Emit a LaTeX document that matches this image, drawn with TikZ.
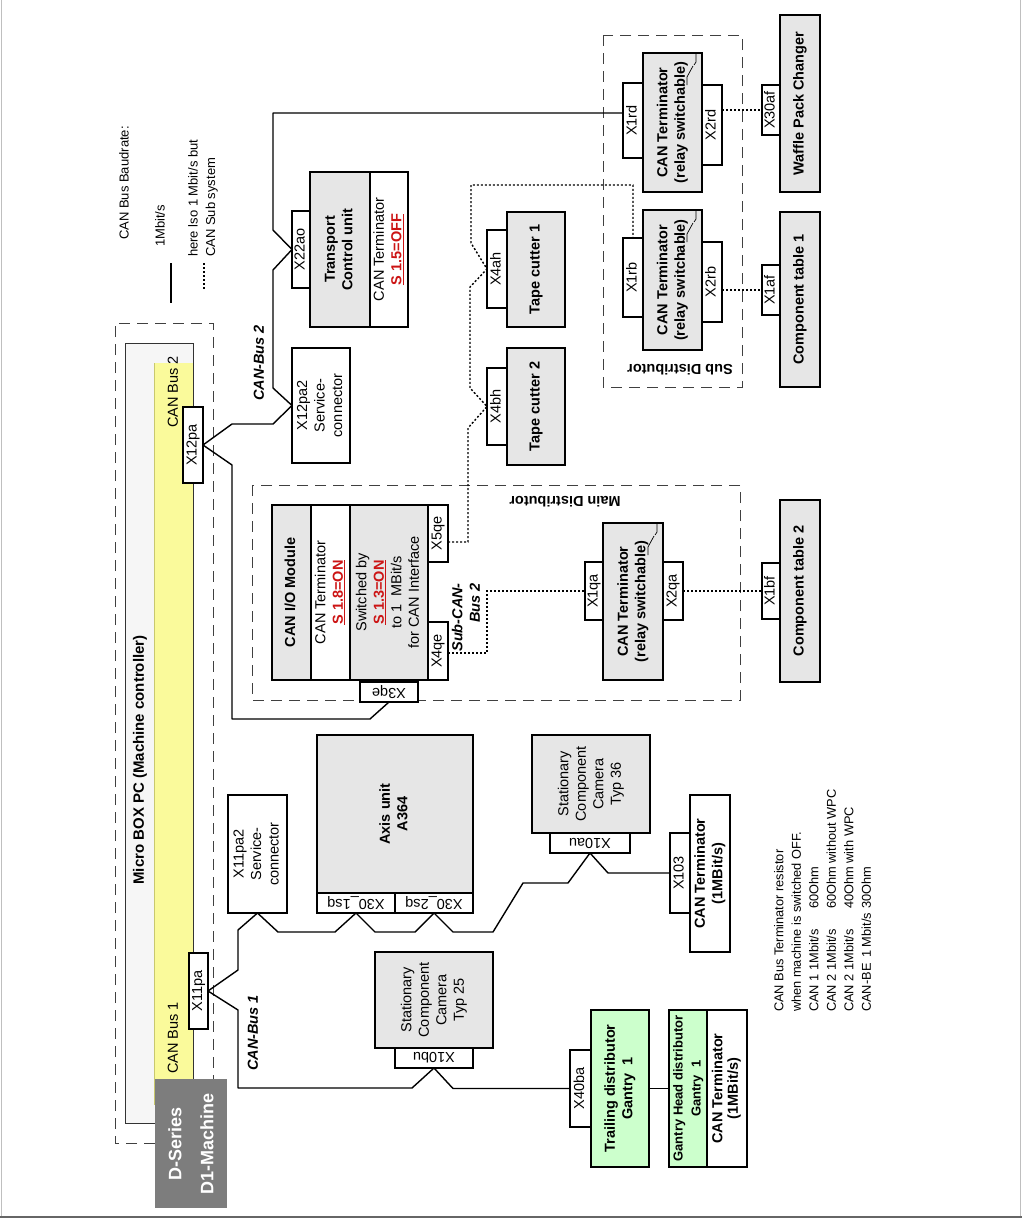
\documentclass[tikz,border=0pt]{standalone}
\usepackage{fontspec}
\setmainfont{Liberation Sans}
\definecolor{boxgray}{RGB}{230,230,230}
\definecolor{mbgray}{RGB}{246,246,246}
\definecolor{yel}{RGB}{250,250,155}
\definecolor{yelb}{RGB}{200,200,110}
\definecolor{dgray}{RGB}{125,125,125}
\definecolor{grn}{RGB}{204,255,204}
\definecolor{swred}{RGB}{204,20,20}
\newcommand{\fn}{\fontsize{14.5}{17.5}\selectfont}
\newcommand{\fb}{\fontsize{14.5}{17.5}\selectfont\bfseries}
\newcommand{\fs}{\fontsize{13}{17.5}\selectfont}
\newcommand{\rt}[1]{\rotatebox{90}{\begin{tabular}{@{}c@{}}#1\end{tabular}}}
\newcommand{\ud}[1]{\rotatebox{180}{#1}}
\newcommand{\sw}[1]{\textcolor{swred}{\textbf{\underline{#1}}}}
% \bx[style]{name}{x1}{y1}{x2}{y2}{text}
\newcommand{\bx}[7][box]{\node[#1, minimum width={(#5-#3)*1pt}, minimum height={(#6-#4)*1pt}] (#2) at ({(#3+#5)/2},{(#4+#6)/2}) {#7};}
\tikzset{
  box/.style={draw, line width=1.2pt, inner sep=0pt, outer sep=0pt, fill=white, font=\fn},
  gbox/.style={box, fill=boxgray},
  bgbox/.style={box, fill=boxgray, font=\fb},
  wire/.style={line width=1.4pt, line join=round},
  dwire/.style={line width=1.4pt, dash pattern=on 2pt off 2pt},
  dashbox/.style={draw=black!75, line width=1pt, dash pattern=on 11pt off 7pt},
  relay/.style={line width=0.7pt},
}
\begin{document}
\begin{tikzpicture}[x=1pt,y=-1pt]
\useasboundingbox (0,0) rectangle (1022,1219);
% frame
\draw[black!25, line width=1pt] (1.5,0) -- (1.5,1217);
\draw[black!25, line width=1pt] (1020.5,0) -- (1020.5,1217);
\draw[black!60, line width=1.2pt] (0,1217) -- (1022,1217);

% legend
\node[rotate=90, font=\fs] (leg1) at (124,183) {CAN Bus Baudrate:};
\node[rotate=90, font=\fs] (leg2) at (160,226) {1Mbit/s};
\coordinate (ls1) at (171,263); \coordinate (ls2) at (171,303);
\draw[wire] (ls1) -- (ls2);
\node[rotate=90, anchor=west, align=left, font=\fs, inner sep=0pt] (leg3) at (203,257) {here lso 1 Mbit/s but\\CAN Sub system};
\coordinate (ld1) at (204,263); \coordinate (ld2) at (204,290);
\draw[dwire] (ld1) -- (ld2);

% Micro BOX PC
\draw[dashbox] (155,1143) -- (115,1143) -- (115,323) -- (213,323) -- (213,1080);
\bx[fill=mbgray, inner sep=0pt, outer sep=0pt]{mbin}{125}{343}{193}{1123}{}
\bx[fill=yel, inner sep=0pt, outer sep=0pt]{ybar}{154}{363}{193}{1105}{}
\draw[yelb, line width=0.8pt] (ybar.north west) -- (ybar.south west);
\draw[black!80, line width=1pt] (mbin.south west) rectangle (mbin.north east);
\node[rotate=90, font=\fontsize{15}{18}\selectfont\bfseries] (mbpc) at (140,760) {Micro BOX PC (Machine controller)};
\node[rotate=90, font=\fn] (cb2) at (173,392) {CAN Bus 2};
\node[rotate=90, font=\fn] (cb1) at (173,1038) {CAN Bus 1};
\bx[fill=dgray, inner sep=0pt, text=white, font=\fontsize{18}{32}\selectfont\bfseries]{dser}{155}{1079}{227}{1208}{\rt{D-Series\\D1-Machine}}

% bus labels
\node[rotate=90, font=\fb\itshape] (canbus2) at (259,363) {CAN-Bus 2};
\node[rotate=90, font=\fb\itshape] (canbus1) at (253,1033) {CAN-Bus 1};

% dashed distributors
\draw[dashbox] (252,485) rectangle (740,700);
\node[rotate=180, font=\fb] (mdl) at (565,502) {Main Distributor};
\draw[dashbox] (603,35) rectangle (742,387);
\node[rotate=180, font=\fb] (sdl) at (680,370) {Sub Distributor};

% connector boxes and units
\bx{X12pa}{183}{407}{203}{483}{\rt{X12pa}}
\bx{X11pa}{189}{953}{208}{1029}{\rt{X11pa}}
\bx{X12pa2}{292}{348}{350}{463}{\rt{X12pa2\\Service-\\connector}}
\bx{X22ao}{292}{211}{310}{288}{\rt{X22ao}}
\bx[bgbox]{tcu}{310}{172}{370}{327}{\rt{Transport\\Control unit}}
\bx{tcut}{370}{172}{408}{327}{\rt{CAN Terminator\\\sw{S 1.5=OFF}}}

\bx[bgbox]{io1}{272}{505}{311}{680}{\rt{CAN I/O Module}}
\bx{io2}{311}{505}{350}{680}{\rt{CAN Terminator\\\sw{S 1.8=ON}}}
\bx[gbox]{io3}{350}{505}{428}{680}{\rt{Switched by\\\sw{S 1.3=ON}\\to 1\ \ MBit/s\\for CAN Interface}}
\bx{X5qe}{428}{505}{448}{562}{\rt{X5qe}}
\bx{X4qe}{428}{622}{448}{680}{\rt{X4qe}}
\bx{X3qe}{360}{682}{418}{702}{\ud{X3qe}}
\node[rotate=90, anchor=east, align=right, font=\fb\itshape, inner sep=0pt] (scb) at (466,583) {Sub-CAN-\\Bus 2};

\bx{X1qa}{585}{562}{603}{620}{\rt{X1qa}}
\bx[bgbox]{tqa}{603}{523}{663}{680}{\rt{CAN Terminator\\(relay switchable)}}
\bx{X2qa}{663}{562}{683}{620}{\rt{X2qa}}
\bx{X1bf}{762}{563}{780}{619}{\rt{X1bf}}
\bx[bgbox]{ct2}{780}{500}{820}{682}{\rt{Component table 2}}

\bx{X4ah}{487}{230}{507}{308}{\rt{X4ah}}
\bx[bgbox]{tc1}{507}{212}{565}{327}{\rt{Tape cutter 1}}
\bx{X4bh}{487}{368}{507}{445}{\rt{X4bh}}
\bx[bgbox]{tc2}{507}{348}{565}{465}{\rt{Tape cutter 2}}

\bx{X1rd}{623}{83}{643}{158}{\rt{X1rd}}
\bx[bgbox]{trd}{643}{53}{702}{192}{\rt{CAN Terminator\\(relay switchable)}}
\bx{X2rd}{702}{85}{722}{165}{\rt{X2rd}}
\bx{X1rb}{623}{238}{643}{317}{\rt{X1rb}}
\bx[bgbox]{trb}{643}{210}{702}{350}{\rt{CAN Terminator\\(relay switchable)}}
\bx{X2rb}{702}{242}{722}{322}{\rt{X2rb}}
\bx{X30af}{762}{85}{780}{135}{\rt{X30af}}
\bx[bgbox]{wpc}{780}{15}{820}{192}{\rt{Waffle Pack Changer}}
\bx{X1af}{762}{265}{780}{315}{\rt{X1af}}
\bx[bgbox]{ct1}{780}{212}{820}{387}{\rt{Component table 1}}

\bx{X11pa2}{228}{795}{287}{913}{\rt{X11pa2\\Service-\\connector}}
\bx[bgbox]{axis}{317}{735}{473}{893}{\rt{Axis unit\\A364}}
\bx{X301}{317}{893}{395}{913}{\ud{X30\_1sq}}
\bx{X302}{395}{893}{473}{913}{\ud{X30\_2sq}}
\bx[gbox]{cam36}{532}{735}{650}{833}{\rt{Stationary\\Component\\Camera\\Typ 36}}
\bx{X10au}{550}{833}{630}{853}{\ud{X10au}}
\bx{X103}{670}{833}{690}{913}{\rt{X103}}
\bx[box, font=\fb]{ct103}{690}{795}{730}{952}{\rt{CAN Terminator\\(1MBit/s)}}
\bx[gbox]{cam25}{375}{952}{493}{1048}{\rt{Stationary\\Component\\Camera\\Typ 25}}
\bx{X10bu}{395}{1048}{473}{1068}{\ud{X10bu}}
\bx{X40ba}{570}{1050}{591}{1127}{\rt{X40ba}}
\bx[box, fill=grn, font=\fb]{trail}{591}{1010}{649}{1167}{\rt{Trailing distributor\\Gantry\ \ 1}}
\bx[box, fill=grn, font=\fontsize{13}{18}\selectfont\bfseries]{ghead}{669}{1010}{707}{1167}{\rt{Gantry Head distributor\\Gantry\ \ 1}}
\bx[box, font=\fontsize{14.5}{15.5}\selectfont\bfseries]{ghterm}{707}{1010}{747}{1167}{\rt{CAN Terminator\\(1MBit/s)}}

% relay switch symbols (top right of the relay terminators)
\foreach \t in {tqa,trd,trb}{
  \draw[relay] ([xshift=-6pt]\t.north east) -- ++(0,9) -- ++(-2,3);
  \draw[relay] ([xshift=-9pt,yshift=-13pt]\t.north east) -- ++(-6,11) -- ++(0,8);
}

% CAN bus 2 wires
\draw[wire] (X12pa.east) -- (232,424) -- (273,424) -- (X12pa2.west);
\draw[wire] (X12pa2.west) -- (273,388) -- (273,270) -- (X22ao.west) -- (273,230) -- (273,113) -- (X1rd.west |- 0,113);
\draw[wire] (X12pa.east) -- (232,465) -- (232,719) -- (370,719) -- (X3qe.south);

% sub CAN bus dotted wires
\draw[dwire] (X5qe.east |- 0,542) -- (468,542) -- (468,428) -- (X4bh.west) -- (470,388) -- (470,287) -- (X4ah.west) -- (471,243) -- (471,185) -| (X1rb.north);
\draw[dwire] (X4qe.east |- 0,653) -- (487,653) |- (X1qa.west);
\draw[dwire] (X2qa.east |- X1bf.west) -- (X1bf.west);
\draw[dwire] (X2rd.east |- X30af.west) -- (X30af.west);
\draw[dwire] (X2rb.east |- X1af.west) -- (X1af.west);

% CAN bus 1 wires
\draw[wire] (X11pa.east) -- (238,970) -- (238,930) -- (X11pa2.south) -- (278,932) -- (335,932) -- (X301.south) -- (375,932) -- (415,932) -- (X302.south) -- (453,932) -- (493,932) -- (523,883) -- (568,883) -- (X10au.south) -- (608,873) -- (X103.west);
\draw[wire] (X11pa.east) -- (238,1010) -- (238,1088) -- (412,1088) -- (X10bu.south) -- (453,1088.5) -- (X40ba.west);
\draw[wire] (trail.east) -- (ghead.west);

% note
\node[rotate=90, anchor=north west, align=left, font=\fontsize{12.8}{17.5}\selectfont, inner sep=0pt] (note) at (774,1012) {CAN Bus Terminator resistor\\when machine is switched OFF.\\\makebox[103pt][l]{CAN 1 1Mbit/s}60Ohm\\\makebox[103pt][l]{CAN 2 1Mbit/s}60Ohm without WPC\\\makebox[103pt][l]{CAN 2 1Mbit/s}40Ohm with WPC\\\makebox[103pt][l]{CAN-BE\ \,1 Mbit/s}30Ohm};
\end{tikzpicture}
\end{document}
